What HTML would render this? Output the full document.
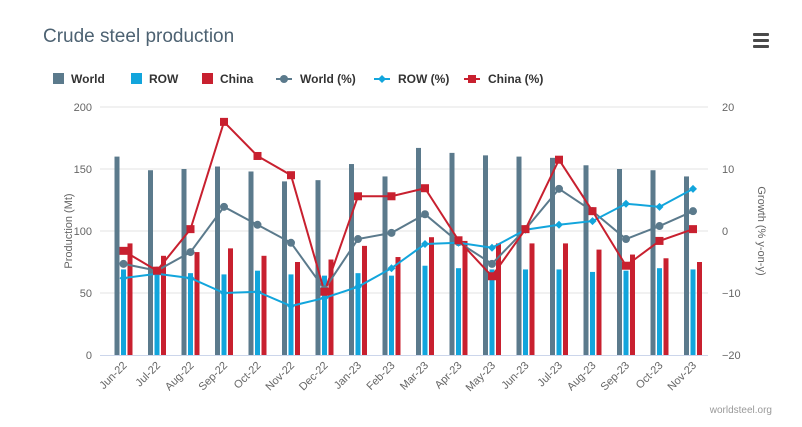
<!DOCTYPE html>
<html><head><meta charset="utf-8"><style>
body{margin:0;background:#fff;}
svg{display:block;font-family:"Liberation Sans",sans-serif;}
</style></head><body>
<svg id="c" width="802" height="427" xmlns="http://www.w3.org/2000/svg">
<text x="43" y="42" font-size="19" fill="#4d6272">Crude steel production</text>
<g fill="#4a4a4a"><rect x="753" y="33" width="16" height="3" rx="1"/><rect x="753" y="39" width="16" height="3" rx="1"/><rect x="753" y="45" width="16" height="3" rx="1"/></g>
<g font-size="12" font-weight="bold" fill="#333">
<rect x="53" y="73" width="11" height="11" fill="#5b7a8c"/><text x="71" y="83">World</text>
<rect x="131" y="73" width="11" height="11" fill="#12a5dc"/><text x="149" y="83">ROW</text>
<rect x="202" y="73" width="11" height="11" fill="#c8202f"/><text x="220" y="83">China</text>
<line x1="276" y1="79" x2="292" y2="79" stroke="#5b7a8c" stroke-width="2"/><circle cx="284" cy="79" r="4" fill="#5b7a8c"/><text x="300" y="83">World (%)</text>
<line x1="374" y1="79" x2="390" y2="79" stroke="#12a5dc" stroke-width="2"/><path d="M382 75 L386 79 L382 83 L378 79Z" fill="#12a5dc"/><text x="398" y="83">ROW (%)</text>
<line x1="464" y1="79" x2="480" y2="79" stroke="#c8202f" stroke-width="2"/><rect x="468" y="75" width="8" height="8" fill="#c8202f"/><text x="488" y="83">China (%)</text>
</g>
<g stroke="#e3e3e3"><line x1="100" y1="107" x2="708" y2="107"/><line x1="100" y1="169" x2="708" y2="169"/><line x1="100" y1="231" x2="708" y2="231"/><line x1="100" y1="293" x2="708" y2="293"/></g>
<line x1="100" y1="355.5" x2="708" y2="355.5" stroke="#ccd6eb"/>
<g font-size="11" fill="#666" text-anchor="end"><text x="92" y="111">200</text><text x="92" y="173">150</text><text x="92" y="235">100</text><text x="92" y="297">50</text><text x="92" y="359">0</text></g>
<g font-size="11" fill="#666"><text x="722" y="111">20</text><text x="722" y="173">10</text><text x="722" y="235">0</text><text x="722" y="297">−10</text><text x="722" y="359">−20</text></g>
<text transform="translate(72,231) rotate(-90)" font-size="11" fill="#666" text-anchor="middle">Production (Mt)</text>
<text transform="translate(758,231) rotate(90)" font-size="11" fill="#666" text-anchor="middle">Growth (% y-on-y)</text>
<g id="bars"></g><g id="lines"></g>
<g font-size="11" fill="#666" text-anchor="end" id="xl">
<text>Jun-22</text><text>Jul-22</text><text>Aug-22</text><text>Sep-22</text><text>Oct-22</text><text>Nov-22</text><text>Dec-22</text><text>Jan-23</text><text>Feb-23</text><text>Mar-23</text><text>Apr-23</text><text>May-23</text><text>Jun-23</text><text>Jul-23</text><text>Aug-23</text><text>Sep-23</text><text>Oct-23</text><text>Nov-23</text>
</g>
<text x="772" y="413" font-size="10" fill="#999" text-anchor="end">worldsteel.org</text>
</svg>
<script>
var W=[160,149,150,152,148,140,141,154,144,167,163,161,160,159,153,150,149,144];
var R=[69,66,66,65,68,65,64,66,64,72,70,69,69,69,67,68,70,69];
var C=[90,80,83,86,80,75,77,88,79,95,92,90,90,90,85,81,78,75];
var WP=[-5.3,-6.4,-3.4,3.9,1,-1.9,-9.4,-1.3,-0.3,2.7,-1.8,-5.3,0.3,6.8,3.2,-1.3,0.8,3.2];
var RP=[-7.6,-6.9,-7.6,-10,-9.8,-12.1,-10.8,-9,-6,-2.1,-1.9,-2.7,0.2,1,1.6,4.4,3.9,6.8];
var CP=[-3.2,-6.4,0.3,17.6,12.1,9,-9.8,5.6,5.6,6.9,-1.5,-7.3,0.3,11.5,3.2,-5.6,-1.6,0.3];
var ns="http://www.w3.org/2000/svg";
function el(t,a,p){var e=document.createElementNS(ns,t);for(var k in a)e.setAttribute(k,a[k]);p.appendChild(e);return e;}
var b=document.getElementById('bars'),l=document.getElementById('lines');
function cx(i){return 123.5+33.5*i;}
function yb(v){return 355-v*1.24;}
function yp(v){return 231-v*6.2;}
for(var i=0;i<18;i++){var c=cx(i);
el('rect',{x:c-9,y:yb(W[i]),width:5,height:W[i]*1.24,fill:'#5b7a8c'},b);
el('rect',{x:c-2.5,y:yb(R[i]),width:5,height:R[i]*1.24,fill:'#12a5dc'},b);
el('rect',{x:c+4,y:yb(C[i]),width:5,height:C[i]*1.24,fill:'#c8202f'},b);}
function line(d,col){var p=d.map(function(v,i){return cx(i)+','+yp(v)}).join(' ');el('polyline',{points:p,fill:'none',stroke:col,'stroke-width':2},l);}
line(WP,'#5b7a8c');line(RP,'#12a5dc');line(CP,'#c8202f');
for(var i=0;i<18;i++){var c=cx(i);
el('circle',{cx:c,cy:yp(WP[i]),r:4,fill:'#5b7a8c'},l);
var y=yp(RP[i]);el('path',{d:'M'+c+' '+(y-4)+'L'+(c+4)+' '+y+'L'+c+' '+(y+4)+'L'+(c-4)+' '+y+'Z',fill:'#12a5dc'},l);
el('rect',{x:c-4,y:yp(CP[i])-4,width:8,height:8,fill:'#c8202f'},l);}
var xl=document.getElementById('xl').children;
for(var i=0;i<18;i++){xl[i].setAttribute('transform','translate('+(cx(i)+4)+',366) rotate(-45)');}
</script>
</body></html>
